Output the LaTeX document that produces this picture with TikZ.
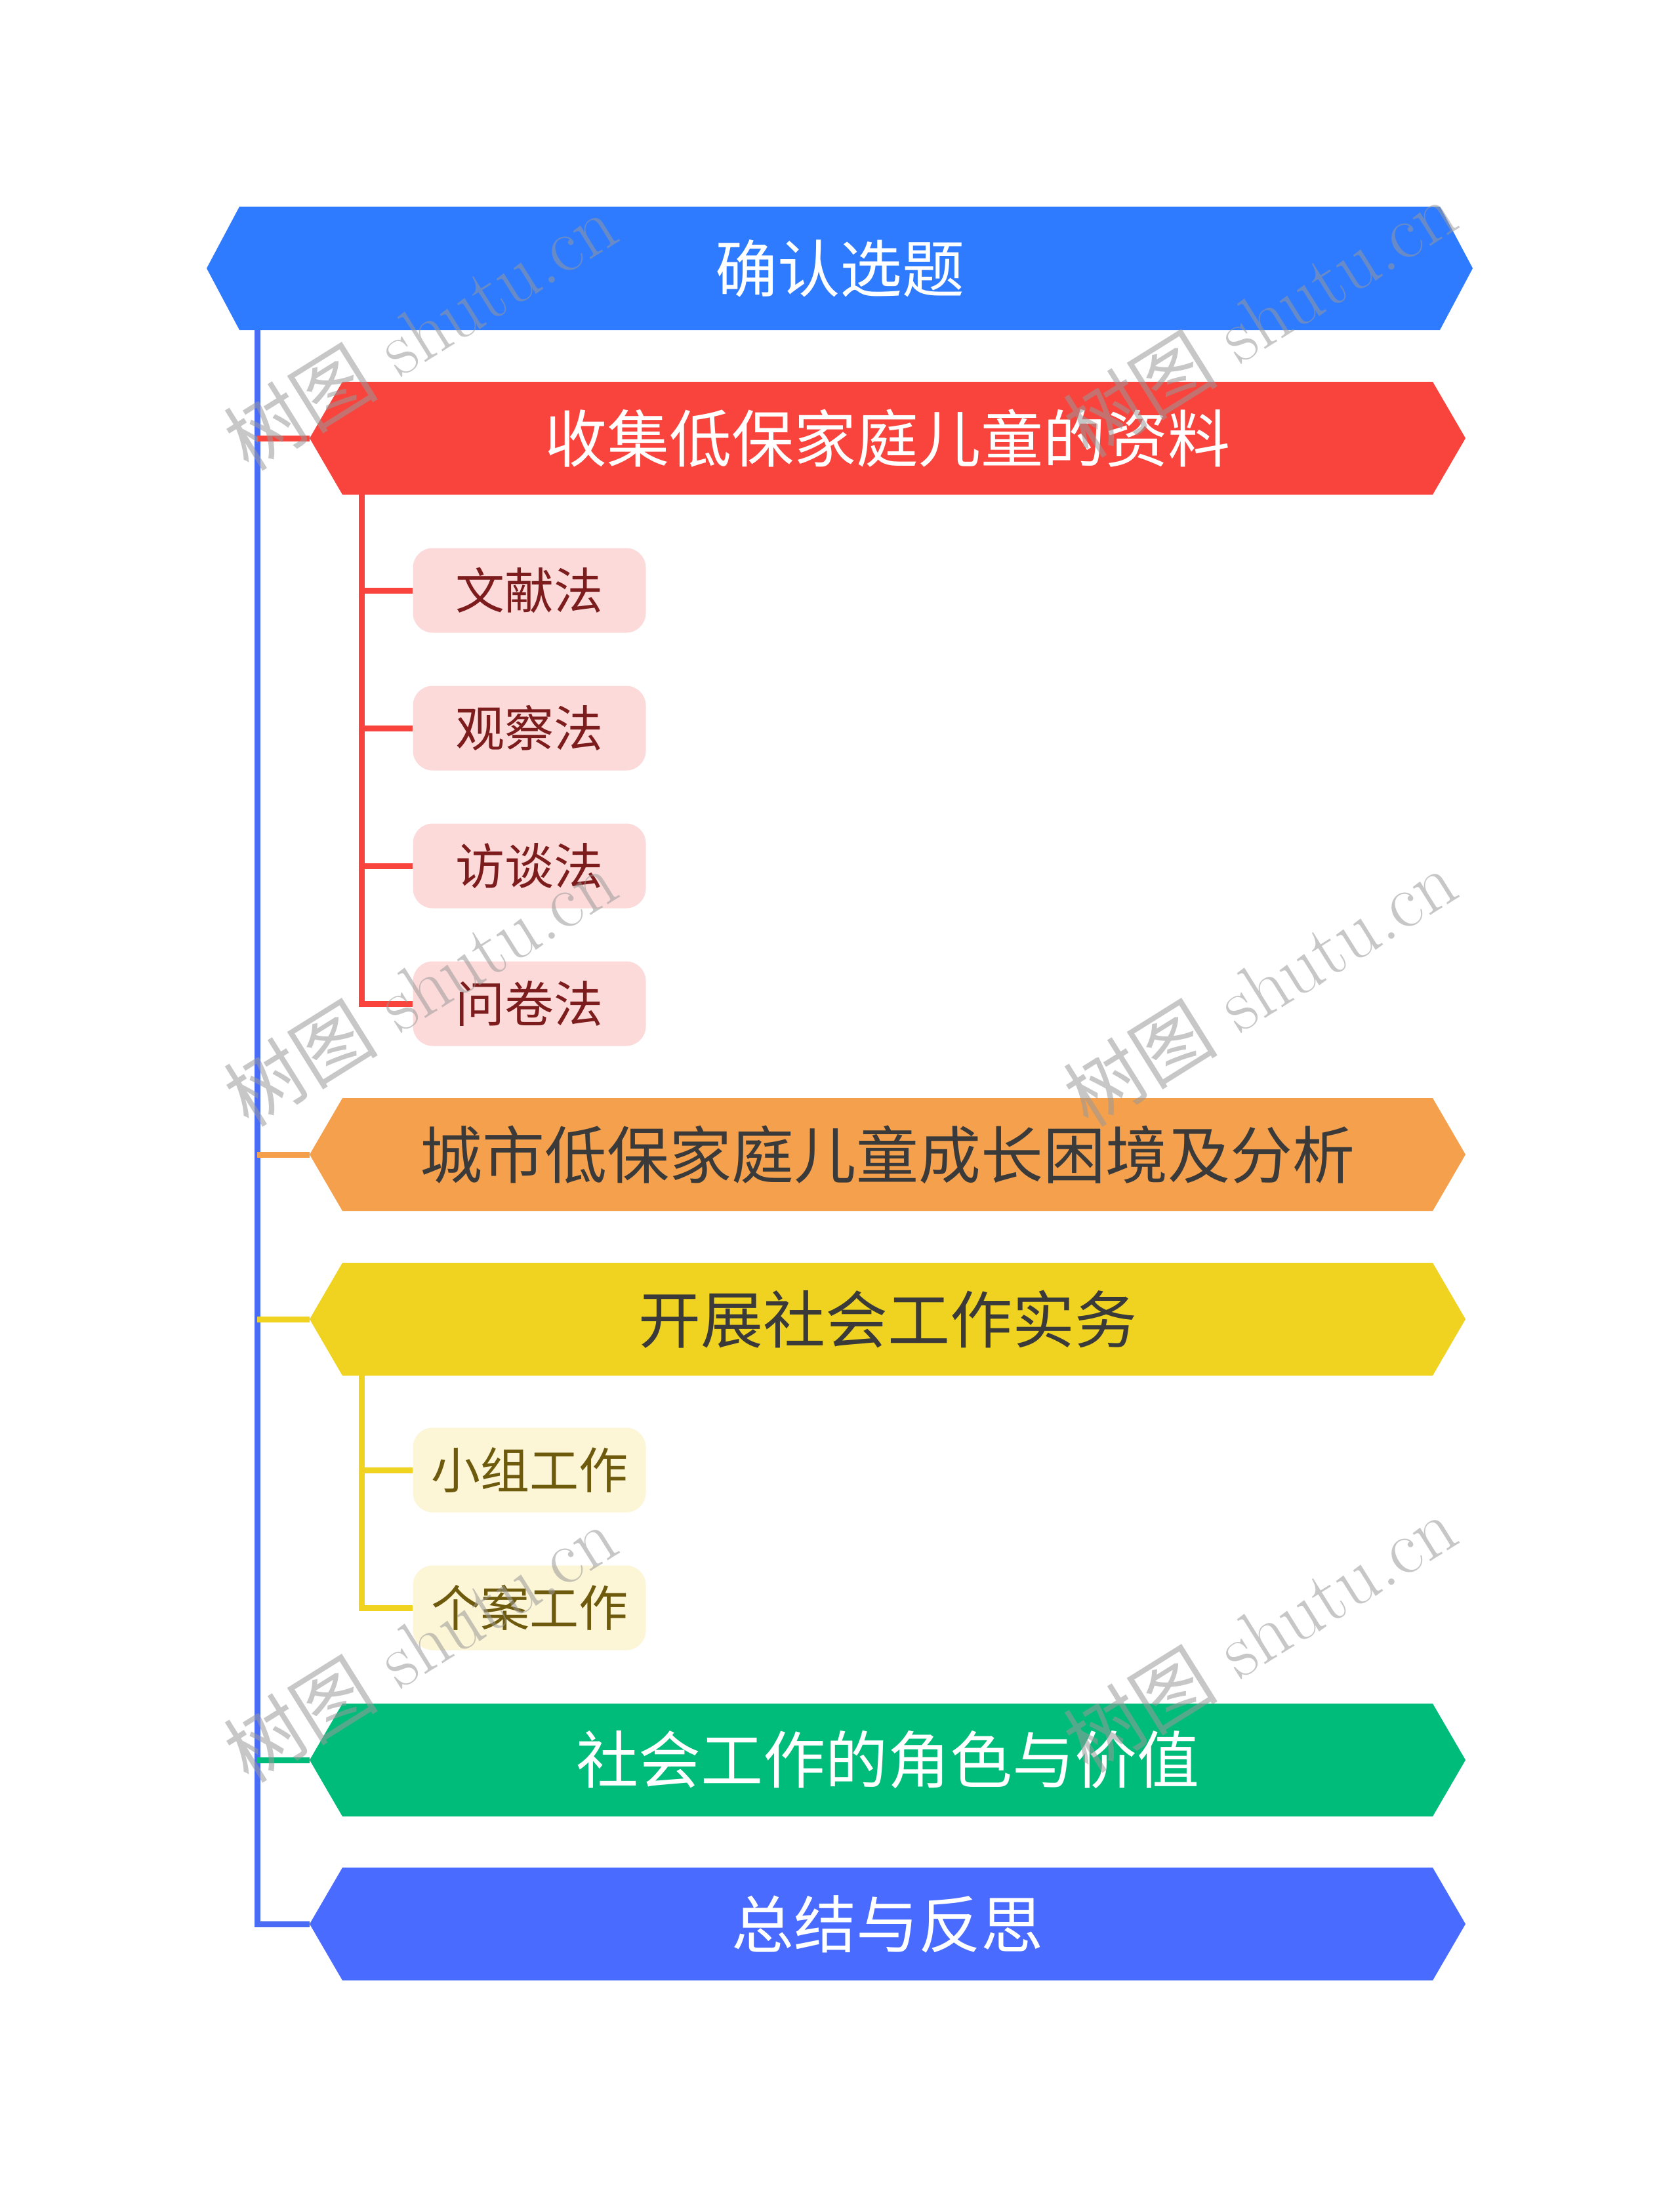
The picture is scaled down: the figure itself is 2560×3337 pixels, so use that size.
\documentclass[tikz,border=0pt]{standalone}
\usepackage{fontspec}
\newfontfamily\cjk{Noto Sans CJK SC}
\definecolor{rootblue}{HTML}{2E7BFF}
\definecolor{redc}{HTML}{F8443C}
\definecolor{orangec}{HTML}{F4A04C}
\definecolor{yellowc}{HTML}{F0D320}
\definecolor{greenc}{HTML}{00BC7B}
\definecolor{finalblue}{HTML}{4A6BFF}
\definecolor{trunkc}{HTML}{4A6CF5}
\definecolor{pinkbox}{HTML}{FDDADA}
\definecolor{redtext}{HTML}{7D1C1C}
\definecolor{ybox}{HTML}{FCF5D6}
\definecolor{ytext}{HTML}{6E5A0C}
\definecolor{darktext}{HTML}{3A3A3A}
\tikzset{
  hexnode/.style={inner sep=0pt, minimum width=1762, minimum height=172,
    text=white, font=\cjk,
    path picture={\fill[#1] (path picture bounding box.west)
      -- ([xshift=50]path picture bounding box.north west)
      -- ([xshift=-50]path picture bounding box.north east)
      -- (path picture bounding box.east)
      -- ([xshift=-50]path picture bounding box.south east)
      -- ([xshift=50]path picture bounding box.south west) -- cycle;}},
  fs/.style={font=\cjk\fontsize{#1}{#1}\selectfont},
  leafred/.style={fill=pinkbox, rounded corners=30, minimum width=355,
    minimum height=129, inner sep=0pt, text=redtext, fs=75},
  leafyel/.style={fill=ybox, rounded corners=30, minimum width=355,
    minimum height=129, inner sep=0pt, text=ytext, fs=75},
  conn/.style={line width=9, draw=#1},
  wm/.style={text=black!40, opacity=0.55, rotate=32, font=\fontsize{118}{118}\selectfont},
}
\begin{document}
\begin{tikzpicture}[x=1pt,y=-1pt]
\useasboundingbox (0,0) rectangle (2560,3337);
\fill[white] (0,0) rectangle (2560,3337);

% main nodes
\node[hexnode=rootblue, minimum width=1930, minimum height=188, fs=95, text=white] (root) at (1280,409) {确认选题};
\node[hexnode=redc, fs=95, text=white] (n1) at (1353,668) {收集低保家庭儿童的资料};
\node[hexnode=orangec, fs=95, text=darktext] (n2) at (1353,1760) {城市低保家庭儿童成长困境及分析};
\node[hexnode=yellowc, fs=95, text=darktext] (n3) at (1353,2011) {开展社会工作实务};
\node[hexnode=greenc, fs=95, text=white] (n4) at (1353,2683) {社会工作的角色与价值};
\node[hexnode=finalblue, fs=95, text=white] (n5) at (1353,2933) {总结与反思};

% leaves
\node[leafred] (c1) at (807,900) {文献法};
\node[leafred] (c2) at (807,1110) {观察法};
\node[leafred] (c3) at (807,1320) {访谈法};
\node[leafred] (c4) at (807,1530) {问卷法};
\node[leafyel] (d1) at (807,2241) {小组工作};
\node[leafyel] (d2) at (807,2451) {个案工作};

% trunk coordinates
\coordinate (tx) at (392,0);
\coordinate (rx) at (551,0);

% main trunk
\draw[conn=trunkc] (root.south -| tx) |- (n5.west);
\draw[conn=redc] (n1.west -| tx) -- (n1.west);
\draw[conn=orangec] (n2.west -| tx) -- (n2.west);
\draw[conn=yellowc] (n3.west -| tx) -- (n3.west);
\draw[conn=greenc] (n4.west -| tx) -- (n4.west);

% red children
\draw[conn=redc] (n1.south -| rx) |- (c4.west);
\draw[conn=redc] (c1.west -| rx) -- (c1.west);
\draw[conn=redc] (c2.west -| rx) -- (c2.west);
\draw[conn=redc] (c3.west -| rx) -- (c3.west);

% yellow children
\draw[conn=yellowc] (n3.south -| rx) |- (d2.west);
\draw[conn=yellowc] (d1.west -| rx) -- (d1.west);

% watermarks
\node[wm] (w1) at (640,505) {{\cjk 树图} shutu.cn};
\node[wm] (w2) at (1920,485) {{\cjk 树图} shutu.cn};
\node[wm] (w3) at (640,1505) {{\cjk 树图} shutu.cn};
\node[wm] (w4) at (1920,1505) {{\cjk 树图} shutu.cn};
\node[wm] (w5) at (640,2505) {{\cjk 树图} shutu.cn};
\node[wm] (w6) at (1920,2490) {{\cjk 树图} shutu.cn};
\end{tikzpicture}
\end{document}
